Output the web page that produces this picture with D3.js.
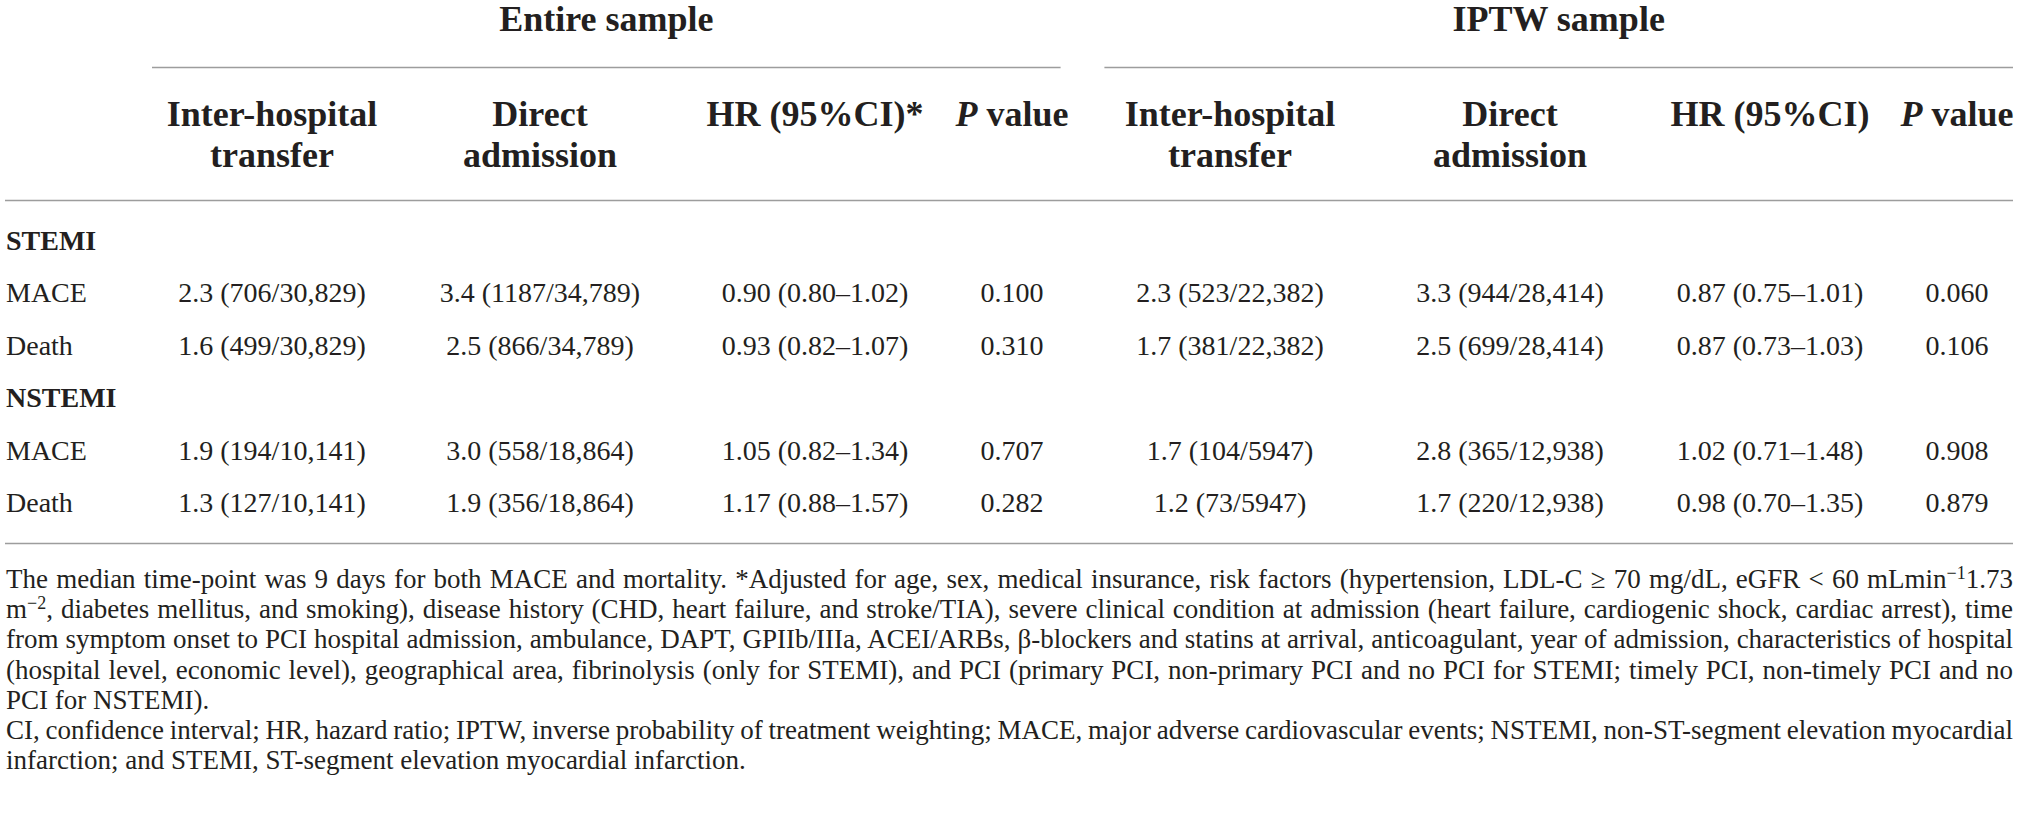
<!DOCTYPE html>
<html>
<head>
<meta charset="utf-8">
<script src="https://cdn.jsdelivr.net/npm/d3@7"></script>
<style>
  body { margin: 0; background: #fff; }
  svg { display: block; }
</style>
</head>
<body>
<svg id="tbl"></svg>
<script>
// ---- table content ----
const panels      = ["Entire sample", "IPTW sample"];
const colHeads    = [["Inter-hospital", "transfer"], ["Direct", "admission"], ["HR (95%CI)*"], ["P value"],
                     ["Inter-hospital", "transfer"], ["Direct", "admission"], ["HR (95%CI)"], ["P value"]];
const rowLabels   = ["STEMI", "MACE", "Death", "NSTEMI", "MACE", "Death"];
const groupRows   = ["STEMI", "NSTEMI"];

const entTransfer = ["2.3 (706/30,829)", "1.6 (499/30,829)", "1.9 (194/10,141)", "1.3 (127/10,141)"];
const entDirect   = ["3.4 (1187/34,789)", "2.5 (866/34,789)", "3.0 (558/18,864)", "1.9 (356/18,864)"];
const entHR       = ["0.90 (0.80–1.02)", "0.93 (0.82–1.07)", "1.05 (0.82–1.34)", "1.17 (0.88–1.57)"];
const entP        = ["0.100", "0.310", "0.707", "0.282"];
const iptwTransfer = ["2.3 (523/22,382)", "1.7 (381/22,382)", "1.7 (104/5947)", "1.2 (73/5947)"];
const iptwDirect  = ["3.3 (944/28,414)", "2.5 (699/28,414)", "2.8 (365/12,938)", "1.7 (220/12,938)"];
const iptwHR      = ["0.87 (0.75–1.01)", "0.87 (0.73–1.03)", "1.02 (0.71–1.48)", "0.98 (0.70–1.35)"];
const iptwP       = ["0.060", "0.106", "0.908", "0.879"];

// footnote lines, ^{..} marks a superscript
const notes = [
  "The median time-point was 9 days for both MACE and mortality. *Adjusted for age, sex, medical insurance, risk factors (hypertension, LDL-C ≥ 70 mg/dL, eGFR < 60 mLmin^{−1}1.73",
  "m^{−2}, diabetes mellitus, and smoking), disease history (CHD, heart failure, and stroke/TIA), severe clinical condition at admission (heart failure, cardiogenic shock, cardiac arrest), time",
  "from symptom onset to PCI hospital admission, ambulance, DAPT, GPIIb/IIIa, ACEI/ARBs, β-blockers and statins at arrival, anticoagulant, year of admission, characteristics of hospital",
  "(hospital level, economic level), geographical area, fibrinolysis (only for STEMI), and PCI (primary PCI, non-primary PCI and no PCI for STEMI; timely PCI, non-timely PCI and no",
  "PCI for NSTEMI).",
  "CI, confidence interval; HR, hazard ratio; IPTW, inverse probability of treatment weighting; MACE, major adverse cardiovascular events; NSTEMI, non-ST-segment elevation myocardial",
  "infarction; and STEMI, ST-segment elevation myocardial infarction."
];
const noteJustified = [true, true, true, true, false, true, false];

// ---- layout ----
const width = 2019, height = 824;
const font = "'Liberation Serif', 'Times New Roman', serif";
const ink = "#231f20", rule = "#9d9d9d";

const svg = d3.select("#tbl").attr("width", width).attr("height", height)
  .attr("viewBox", [0, 0, width, height]);

const columns = [entTransfer, entDirect, entHR, entP, iptwTransfer, iptwDirect, iptwHR, iptwP];
const x = d3.scaleOrdinal().domain(d3.range(columns.length))
  .range([272, 540, 815, 1012, 1230, 1510, 1770, 1957]);
const panelX = d3.scaleBand().domain(panels).range([152, 2013]).paddingInner(0.046);
const y = d3.scalePoint().domain(d3.range(rowLabels.length)).range([250, 512]);
const noteY = d3.scalePoint().domain(d3.range(notes.length)).range([588, 769]);
const left = 6, right = 2013;

// panel titles + their rules
const pg = svg.append("g");
pg.selectAll("text").data(panels).join("text")
  .attr("x", d => panelX(d) + panelX.bandwidth() / 2)
  .attr("y", 31)
  .attr("text-anchor", "middle")
  .attr("font-family", font).attr("font-weight", "bold").attr("font-size", 36)
  .attr("fill", ink)
  .text(d => d);
pg.selectAll("line").data(panels).join("line")
  .attr("x1", d => panelX(d)).attr("x2", d => panelX(d) + panelX.bandwidth())
  .attr("y1", 67.5).attr("y2", 67.5)
  .attr("stroke", rule).attr("stroke-width", 1.6);

// column headers
const hg = svg.append("g")
  .attr("font-family", font).attr("font-weight", "bold").attr("font-size", 36)
  .attr("fill", ink).attr("text-anchor", "middle");
hg.selectAll("text").data(colHeads).join("text")
  .attr("transform", (d, i) => `translate(${x(i)},126)`)
  .each(function (lines) {
    const t = d3.select(this);
    lines.forEach((ln, k) => {
      const span = t.append("tspan").attr("x", 0).attr("y", k * 41);
      if (ln.startsWith("P ")) {
        span.append("tspan").attr("font-style", "italic").text("P");
        span.append("tspan").text(ln.slice(1));
      } else {
        span.text(ln);
      }
    });
  });

// horizontal rules
svg.selectAll("line.rule").data([200, 543]).join("line")
  .attr("class", "rule")
  .attr("x1", left - 1).attr("x2", right)
  .attr("y1", d => d + 0.5).attr("y2", d => d + 0.5)
  .attr("stroke", rule).attr("stroke-width", 1.6);

// row labels
svg.append("g").selectAll("text").data(rowLabels).join("text")
  .attr("x", left)
  .attr("y", (d, i) => y(i))
  .attr("font-family", font).attr("font-size", 28)
  .attr("font-weight", d => groupRows.includes(d) ? "bold" : "normal")
  .attr("fill", ink)
  .text(d => d);

// data cells: data rows are the non-group rows
const dataRows = rowLabels.map((d, i) => i).filter(i => !groupRows.includes(rowLabels[i]));
const cells = [];
columns.forEach((col, c) => col.forEach((v, r) => cells.push({ c, r: dataRows[r], v })));
svg.append("g")
  .attr("font-family", font).attr("font-size", 28).attr("fill", ink)
  .attr("text-anchor", "middle")
  .selectAll("text").data(cells).join("text")
  .attr("x", d => x(d.c))
  .attr("y", d => y(d.r))
  .text(d => d.v);

// footnotes, justified with word-spacing
const ng = svg.append("g")
  .attr("font-family", font).attr("font-size", 27).attr("fill", ink);
ng.selectAll("text").data(notes).join("text")
  .attr("x", left)
  .attr("y", (d, i) => noteY(i))
  .each(function (line, i) {
    const t = d3.select(this);
    let lift = 0;
    line.split(/(\^\{[^}]*\})/).forEach(part => {
      if (!part) return;
      if (part.startsWith("^{")) {
        t.append("tspan").attr("dy", -9).attr("font-size", 18).text(part.slice(2, -1));
        lift = 9;
      } else {
        t.append("tspan").attr("dy", lift).text(part);
        lift = 0;
      }
    });
    if (noteJustified[i]) {
      const w = this.getBBox().width;
      const gaps = (line.match(/ /g) || []).length;
      t.attr("word-spacing", ((right - left) - w) / gaps);
    }
  });
</script>
</body>
</html>
